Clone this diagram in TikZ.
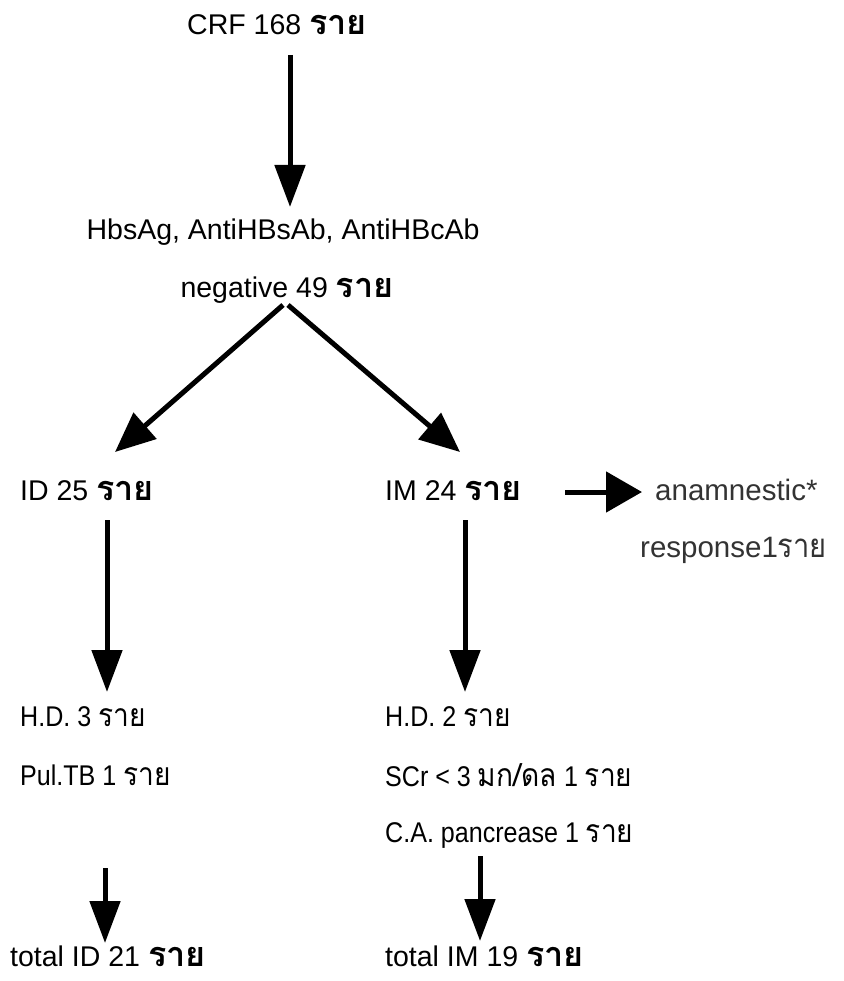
\documentclass[tikz,border=0pt]{standalone}
\usepackage{fontspec}
\setmainfont{Liberation Sans}
\newfontfamily\thai[Script=Thai,Scale=1.2]{Loma}
\newfontfamily\narrow[FakeStretch=0.88]{Liberation Sans}
\newfontfamily\thainarrow[Script=Thai,FakeStretch=0.88,Scale=1.12]{Loma}
\usetikzlibrary{arrows.meta}

\tikzset{
  txt/.style={font=\fontsize{28.5}{32}\selectfont, inner sep=0pt},
  lbl/.style={txt, anchor=west},
  arr/.style={line width=5pt, -{Triangle[width=30pt,length=42pt]}},
}
\newcommand{\rai}{{\thai\bfseries ราย}}
\newcommand{\raithin}{{\thainarrow ราย}}

\begin{document}
\begin{tikzpicture}[x=1pt, y=-1pt]
    \useasboundingbox (0,0) rectangle (843,981);
    % top of the tree
    \node[txt] (crf) at (277,25) {CRF 168 \rai};
    \node[txt] (hbs) at (283,232) {HbsAg, AntiHBsAb, AntiHBcAb};
    \node[txt] (neg) at (287,290) {negative 49 \rai};
    % the two groups
    \node[lbl] (id) at (20,491) {ID 25 \rai};
    \node[lbl] (im) at (385,491) {IM 24 \rai};
    \node[lbl, text=black!80, font=\fontsize{29.5}{32}\selectfont] (anam) at (655,490) {anamnestic*};
    \node[lbl, text=black!80, font=\fontsize{29.5}{32}\selectfont] (resp) at (640,550) {response1\raithin};
    % excluded cases
    \node[lbl] (hdid) at (20,717) {\narrow H.D. 3 \raithin};
    \node[lbl] (tbid) at (20,775) {\narrow Pul.TB 1 \raithin};
    \node[lbl] (hdim) at (385,717) {\narrow H.D. 2 \raithin};
    \node[lbl] (scrim) at (385,775) {\narrow SCr < 3 {\thainarrow มก/ดล} 1 \raithin};
    \node[lbl] (caim) at (385,835) {\narrow C.A. pancrease 1 \raithin};
    % totals
    \node[lbl] (totid) at (10,956) {total ID 21 \rai};
    \node[lbl] (totim) at (385,956) {total IM 19 \rai};

    % arrow ends
    \coordinate (a1) at (290,55);   \coordinate (b1) at (290,207);
    \coordinate (a2) at (283,305);  \coordinate (b2) at (115,452);
    \coordinate (a3) at (288,305);  \coordinate (b3) at (460,452);
    \coordinate (a4) at (565,492);  \coordinate (b4) at (642,492);
    \coordinate (a5) at (107,520);  \coordinate (b5) at (107,692);
    \coordinate (a6) at (465,520);  \coordinate (b6) at (465,692);
    \coordinate (a7) at (105,868);  \coordinate (b7) at (105,943);
    \coordinate (a8) at (480,856);  \coordinate (b8) at (480,941);

    \draw[arr] (a1) -- (b1);
    \draw[line width=5pt, -{Triangle[width=34pt,length=40pt]}] (a2) -- (b2);
    \draw[line width=5pt, -{Triangle[width=34pt,length=40pt]}] (a3) -- (b3);
    \draw[line width=5pt, -{Triangle[width=40pt,length=36pt]}] (a4) -- (b4);
    \draw[arr] (a5) -- (b5);
    \draw[arr] (a6) -- (b6);
    \draw[arr] (a7) -- (b7);
    \draw[arr] (a8) -- (b8);
\end{tikzpicture}
\end{document}
